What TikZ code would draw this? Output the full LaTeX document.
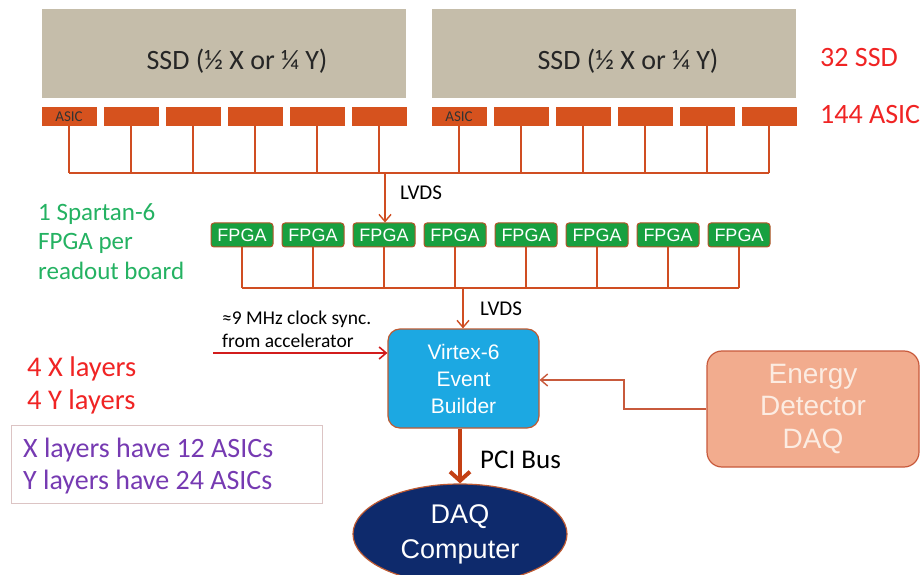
\documentclass[tikz,border=0pt]{standalone}
\usepackage{fontspec}
\setmainfont{Carlito}
\newfontfamily\arial{Liberation Sans}
\usetikzlibrary{arrows.meta,shapes.geometric}
\definecolor{ssdfill}{RGB}{197,189,170}
\definecolor{asicfill}{RGB}{214,82,30}
\definecolor{wire}{RGB}{208,78,34}
\definecolor{fpgafill}{RGB}{24,160,64}
\definecolor{fpgaedge}{RGB}{180,84,40}
\definecolor{virtexfill}{RGB}{28,168,226}
\definecolor{edgeorange}{RGB}{190,90,50}
\definecolor{energyfill}{RGB}{242,172,142}
\definecolor{energyedge}{RGB}{200,90,60}
\definecolor{energytext}{RGB}{252,236,226}
\definecolor{daqfill}{RGB}{14,42,108}
\definecolor{clockred}{RGB}{210,28,28}
\definecolor{labelred}{RGB}{240,36,36}
\definecolor{spgreen}{RGB}{36,178,98}
\definecolor{purp}{RGB}{118,58,178}
\definecolor{pbox}{RGB}{220,196,196}
\definecolor{pciarrow}{RGB}{196,64,20}
\tikzset{
  ssdbox/.style={draw=none,fill=ssdfill,minimum width=364pt,minimum height=89pt,inner sep=0pt},
  asicbox/.style={draw=none,fill=asicfill,minimum width=55pt,minimum height=19pt,inner sep=0pt,font=\fontsize{15}{15}\selectfont,text=black!80},
  fpgabox/.style={draw=fpgaedge,line width=1pt,fill=fpgafill,rounded corners=3pt,minimum width=62pt,minimum height=24pt,inner sep=0pt,text=white,font=\arial\fontsize{18}{18}\selectfont},
  wireline/.style={draw=wire,line width=1.4pt},
  barb/.style={-{Straight Barb[length=7pt,width=12pt]}},
  lbl/.style={inner sep=0pt,anchor=west}
}
\begin{document}
\begin{tikzpicture}[x=1pt,y=-1pt]
\path[use as bounding box,fill=white] (0,0) rectangle (922,575);
\clip (0,0) rectangle (922,575);
% SSDs
\node[ssdbox] (ssdL) at (224,54) {};
\node[ssdbox] (ssdR) at (614,54) {};
\node[inner sep=0pt,font=\fontsize{28}{28}\selectfont,text=black!85] (ssdLt) at (237,61) {SSD (½ X or ¼ Y)};
\node[inner sep=0pt,font=\fontsize{28}{28}\selectfont,text=black!85] (ssdRt) at (628,61) {SSD (½ X or ¼ Y)};
% ASICs
\foreach \i in {0,...,5}{
  \pgfmathsetmacro{\xa}{69+62*\i}
  \pgfmathsetmacro{\xb}{459+62*\i}
  \node[asicbox] (aL\i) at (\xa,116.5) {\ifnum\i=0 ASIC\fi};
  \node[asicbox] (aR\i) at (\xb,116.5) {\ifnum\i=0 ASIC\fi};
}
\coordinate (busA) at (385,173);
\foreach \i in {0,...,5}{
  \draw[wireline] (aL\i.south) -- (aL\i.south |- busA);
  \draw[wireline] (aR\i.south) -- (aR\i.south |- busA);
}
\draw[wireline] (aL0.south |- busA) -- (aR5.south |- busA);
% FPGAs
\foreach \i in {1,...,8}{
  \pgfmathsetmacro{\xf}{242+71*(\i-1)}
  \node[fpgabox] (f\i) at (\xf,235) {FPGA};
}
\draw[wireline,barb] (busA) -- (busA |- f3.north);
\node[lbl,font=\fontsize{21}{21}\selectfont] (lvds1) at (400,193) {LVDS};
\coordinate (busB) at (463,288);
\foreach \i in {1,...,8}{
  \draw[wireline] (f\i.south) -- (f\i.south |- busB);
}
\draw[wireline] (f1.south |- busB) -- (f8.south |- busB);
% Virtex
\node[draw=edgeorange,line width=1.2pt,fill=virtexfill,rounded corners=12pt,minimum width=151pt,minimum height=99pt,inner sep=0pt,
  text=white,font=\arial\fontsize{21}{27}\selectfont,align=center] (vtx) at (463.5,378.5) {Virtex-6\\Event\\Builder};
\draw[wireline,barb] (busB) -- (busB |- vtx.north);
\node[lbl,font=\fontsize{21}{21}\selectfont] (lvds2) at (480,309) {LVDS};
% clock
\coordinate (clk) at (213,353);
\draw[draw=clockred,line width=1.6pt,barb] (clk) -- (clk -| vtx.west);
\node[lbl,font=\fontsize{19.5}{22.5}\selectfont,align=left,anchor=north west] (clkt) at (222,311) {≈9 MHz clock sync.\\from accelerator};
% energy
\node[draw=energyedge,line width=1.2pt,fill=energyfill,rounded corners=15pt,minimum width=212pt,minimum height=116pt,inner sep=0pt,
  text=energytext,font=\arial\fontsize{28}{32.5}\selectfont,align=center] (edaq) at (813,409) {Energy\\Detector\\DAQ};
\coordinate (ebend) at (624,380);
\draw[draw=energyedge,line width=1.4pt,barb] (edaq.west) -- (edaq.west -| ebend) -- (ebend) -- (ebend -| vtx.east);
% DAQ computer
\node[ellipse,draw=edgeorange,line width=1.2pt,fill=daqfill,minimum width=214pt,minimum height=100pt,inner sep=0pt,
  text=white,font=\arial\fontsize{27}{35}\selectfont,align=center] (daq) at (460,534) {DAQ\\Computer};
\draw[draw=pciarrow,line width=4.5pt,-{Straight Barb[length=9pt,width=20pt,line width=4pt]}] (vtx.south -| daq.north) -- (daq.north);
\node[lbl,font=\fontsize{27}{27}\selectfont] (pci) at (480,460) {PCI Bus};
% side labels
\node[lbl,font=\fontsize{28}{28}\selectfont,text=labelred] (s32) at (820,58) {32 SSD};
\node[lbl,font=\fontsize{28}{28}\selectfont,text=labelred] (s144) at (820,115) {144 ASIC};
\node[lbl,anchor=north west,font=\fontsize{25}{29.5}\selectfont,text=spgreen,align=left] (spart) at (38,203) {1 Spartan-6\\FPGA per\\readout board};
\node[lbl,anchor=north west,font=\fontsize{28.5}{33}\selectfont,text=labelred,align=left] (layers) at (27,357) {4 X layers\\4 Y layers};
\node[draw=pbox,line width=1pt,minimum width=311pt,minimum height=78pt,inner sep=0pt] (pb) at (166.5,464) {};
\node[lbl,anchor=north west,font=\fontsize{28}{32}\selectfont,text=purp,align=left] (ptxt) at (23,438) {X layers have 12 ASICs\\Y layers have 24 ASICs};
\end{tikzpicture}
\end{document}
